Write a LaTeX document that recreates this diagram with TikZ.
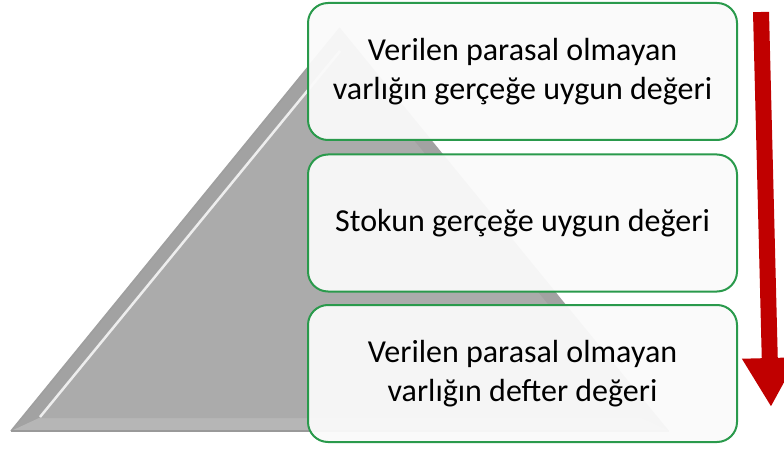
\documentclass[tikz,border=0pt]{standalone}
\usepackage{fontspec}
\setmainfont{Carlito}
\usetikzlibrary{arrows.meta}
\definecolor{boxgreen}{HTML}{2A9A4C}
\definecolor{arrowred}{HTML}{C00000}
\definecolor{pyrbody}{HTML}{ABABAB}
\definecolor{pyredge}{HTML}{A2A2A2}
\definecolor{pyrbase}{HTML}{B6B6B6}
\tikzset{
  levelbox/.style={draw=boxgreen, line width=2pt, rounded corners=20pt, fill=gray!4, fill opacity=0.95, text opacity=1,
    minimum width=429pt, minimum height=137pt, align=center, font=\fontsize{32}{39}\selectfont},
}
\begin{document}
\begin{tikzpicture}[x=1pt,y=-1pt]
\useasboundingbox (0,0) rectangle (784,449);
% pyramid
\fill[pyredge] (11,431) -- (340,28) -- (669,431) -- cycle ;
\fill[pyrbase] (11,431) -- (39,418) -- (641,418) -- (669,431) -- cycle ;
\fill[pyrbody] (39,418) -- (340,50) -- (641,418) -- cycle ;
\draw[white, line width=2.5pt, opacity=0.8] (40,417) -- (340,51) ;
\draw[gray!75, line width=1.5pt] (11,431) -- (340,28) ;
\draw[gray!80, line width=2pt] (11,431) -- (669,431) ;
% levels
\node[levelbox] (top) at (522.5,71.5) {Verilen parasal olmayan\\varlığın gerçeğe uygun değeri} ;
\node[levelbox] (mid) at (522.5,223) {Stokun gerçeğe uygun değeri} ;
\node[levelbox] (bot) at (522.5,373.5) {Verilen parasal olmayan\\varlığın defter değeri} ;
% arrow
\coordinate (astart) at (761,12) ;
\coordinate (aend) at (771,407) ;
\draw[arrowred, line width=16pt, -{Triangle[width=52pt,length=49pt]}] (astart) -- (aend) ;
\end{tikzpicture}
\end{document}
